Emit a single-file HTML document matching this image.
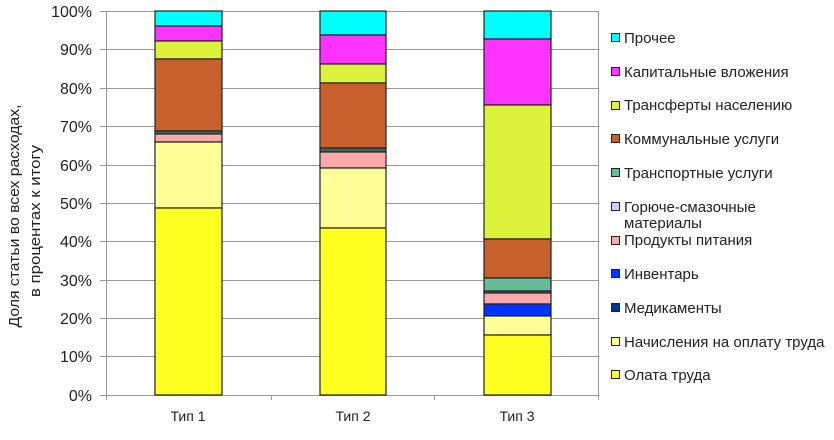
<!DOCTYPE html>
<html><head><meta charset="utf-8"><style>
body{margin:0;background:#fff;width:834px;height:435px;overflow:hidden}
svg text{font-family:"Liberation Sans",sans-serif;fill:#222}
</style></head><body>
<svg width="834" height="435" xmlns="http://www.w3.org/2000/svg">
<g stroke="#999" stroke-width="1">
<line x1="106" y1="11.5" x2="598" y2="11.5"/><line x1="100" y1="49.5" x2="598" y2="49.5"/>
<line x1="100" y1="88.5" x2="598" y2="88.5"/><line x1="100" y1="126.5" x2="598" y2="126.5"/>
<line x1="100" y1="165.5" x2="598" y2="165.5"/><line x1="100" y1="203.5" x2="598" y2="203.5"/>
<line x1="100" y1="241.5" x2="598" y2="241.5"/><line x1="100" y1="280.5" x2="598" y2="280.5"/>
<line x1="100" y1="318.5" x2="598" y2="318.5"/><line x1="100" y1="356.5" x2="598" y2="356.5"/>
<line x1="100" y1="395.5" x2="598" y2="395.5"/><line x1="100" y1="11.5" x2="106" y2="11.5"/>
<line x1="106.5" y1="11" x2="106.5" y2="400"/><line x1="598.5" y1="11" x2="598.5" y2="400"/>
<line x1="271.5" y1="395" x2="271.5" y2="400"/><line x1="434.5" y1="395" x2="434.5" y2="400"/>
</g>
<g stroke="#222" stroke-width="1.2">
<rect x="155" y="11" width="67" height="15" fill="#00ffff"/>
<rect x="155" y="26" width="67" height="15" fill="#ff33ff"/>
<rect x="155" y="41" width="67" height="18" fill="#ddf23a"/>
<rect x="155" y="59" width="67" height="72" fill="#c8602e"/>
<rect x="155" y="131" width="67" height="3" fill="#3a6a5a"/>
<rect x="155" y="134" width="67" height="8" fill="#ffaaaa"/>
<rect x="155" y="142" width="67" height="66" fill="#ffff99"/>
<rect x="155" y="208" width="67" height="187" fill="#ffff22"/>

<rect x="320" y="11" width="66" height="24" fill="#00ffff"/>
<rect x="320" y="35" width="66" height="29" fill="#ff33ff"/>
<rect x="320" y="64" width="66" height="19" fill="#ddf23a"/>
<rect x="320" y="83" width="66" height="65" fill="#c8602e"/>
<rect x="320" y="148" width="66" height="4" fill="#3a6a5a"/>
<rect x="320" y="152" width="66" height="16" fill="#ffaaaa"/>
<rect x="320" y="168" width="66" height="60" fill="#ffff99"/>
<rect x="320" y="228" width="66" height="167" fill="#ffff22"/>

<rect x="484" y="11" width="67" height="28" fill="#00ffff"/>
<rect x="484" y="39" width="67" height="66" fill="#ff33ff"/>
<rect x="484" y="105" width="67" height="134" fill="#ddf23a"/>
<rect x="484" y="239" width="67" height="39" fill="#c8602e"/>
<rect x="484" y="278" width="67" height="13" fill="#66bb99"/>
<rect x="484" y="291" width="67" height="2" fill="#3a6a5a"/>
<rect x="484" y="293" width="67" height="11" fill="#ffaaaa"/>
<rect x="484" y="304" width="67" height="12" fill="#0033ff"/>
<rect x="484" y="316" width="67" height="19" fill="#ffff99"/>
<rect x="484" y="335" width="67" height="60" fill="#ffff22"/>
</g>
<g font-size="16" text-anchor="end">
<text x="92" y="17">100%</text><text x="92" y="55">90%</text><text x="92" y="94">80%</text>
<text x="92" y="132">70%</text><text x="92" y="171">60%</text><text x="92" y="209">50%</text>
<text x="92" y="247">40%</text><text x="92" y="286">30%</text><text x="92" y="324">20%</text>
<text x="92" y="362">10%</text><text x="92" y="401">0%</text>
</g>
<g font-size="14" text-anchor="middle">
<text x="188" y="421">Тип 1</text><text x="353" y="421">Тип 2</text><text x="517" y="421">Тип 3</text>
</g>
<g font-size="15" text-anchor="middle">
<text transform="translate(19,216) rotate(-90)" textLength="223" lengthAdjust="spacingAndGlyphs">Доля статьи во всех расходах,</text>
<text transform="translate(40,221) rotate(-90)" textLength="152" lengthAdjust="spacingAndGlyphs">в процентах к итогу</text>
</g>
<g stroke="#222" stroke-width="1">
<rect x="611.5" y="33.5" width="8" height="8" fill="#00ffff"/>
<rect x="611.5" y="67.5" width="8" height="8" fill="#ff33ff"/>
<rect x="611.5" y="101.5" width="8" height="8" fill="#ddf23a"/>
<rect x="611.5" y="134.5" width="8" height="8" fill="#c8602e"/>
<rect x="611.5" y="168.5" width="8" height="8" fill="#66bb99"/>
<rect x="611.5" y="202.5" width="8" height="8" fill="#ccccff"/>
<rect x="611.5" y="236.5" width="8" height="8" fill="#ffaaaa"/>
<rect x="611.5" y="269.5" width="8" height="8" fill="#0033ff"/>
<rect x="611.5" y="303.5" width="8" height="8" fill="#003399"/>
<rect x="611.5" y="337.5" width="8" height="8" fill="#ffff99"/>
<rect x="611.5" y="370.5" width="8" height="8" fill="#ffff22"/>
</g>
<g font-size="15">
<text x="624" y="43">Прочее</text>
<text x="624" y="77">Капитальные вложения</text>
<text x="624" y="110">Трансферты населению</text>
<text x="624" y="144">Коммунальные услуги</text>
<text x="624" y="178">Транспортные услуги</text>
<text x="624" y="212">Горюче-смазочные</text>
<text x="624" y="228">материалы</text>
<text x="624" y="245">Продукты питания</text>
<text x="624" y="279">Инвентарь</text>
<text x="624" y="313">Медикаменты</text>
<text x="624" y="347">Начисления на оплату труда</text>
<text x="624" y="380">Олата труда</text>
</g>
</svg>
</body></html>
